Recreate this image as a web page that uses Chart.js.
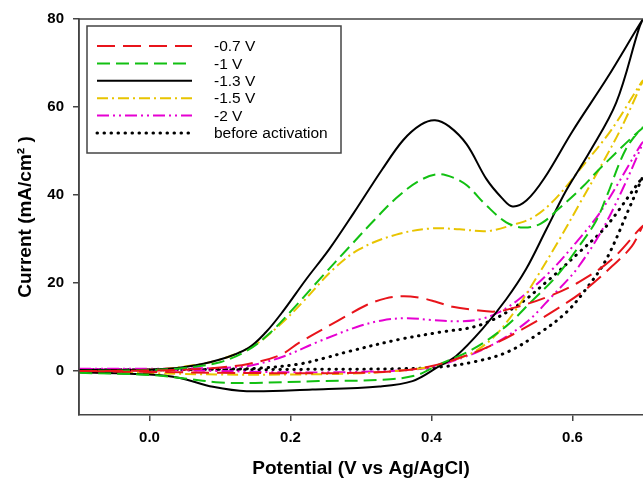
<!DOCTYPE html>
<html>
<head>
<meta charset="utf-8">
<script src="https://cdn.jsdelivr.net/npm/chart.js@4.4.1/dist/chart.umd.min.js"></script>
<style>
  body { margin: 0; background: #fff; }
  #cv { display: block; }
</style>
</head>
<body>
<canvas id="cv" width="643" height="482"></canvas>
<script>
// series labels, in legend order
const labels = ["-0.7 V", "-1 V", "-1.3 V", "-1.5 V", "-2 V", "before activation"];

// [potential (V), current (mA/cm2)] - anodic scan then the return scan
const curve07 = [
  [-0.1, 0], [0.0, 0.1], [0.05, 0.3], [0.1, 0.8], [0.14, 1.6], [0.185, 3.6], [0.213, 6.5],
  [0.265, 11.2], [0.308, 15], [0.335, 16.5], [0.36, 17], [0.385, 16.6], [0.405, 15.8],
  [0.43, 14.6], [0.46, 13.9], [0.49, 13.5], [0.52, 14.5], [0.567, 17], [0.609, 20.2],
  [0.656, 25.4], [0.7, 33],
  [0.684, 28.3], [0.656, 23.8], [0.619, 18.6], [0.577, 14], [0.529, 9.5], [0.482, 5.6],
  [0.44, 3], [0.41, 1.5], [0.37, 0.3], [0.3, -0.4], [0.2, -0.5], [0.1, -0.4], [0.0, -0.2], [-0.1, 0]
];
const curve1 = [
  [-0.1, 0], [0.0, 0.2], [0.05, 0.7], [0.1, 2], [0.14, 4.8], [0.17, 8.5], [0.203, 14],
  [0.245, 21.5], [0.284, 28.3], [0.32, 34.5], [0.35, 39.3], [0.38, 43], [0.408, 44.7],
  [0.43, 44], [0.45, 42.2], [0.478, 37.6], [0.506, 33.8], [0.53, 32.6], [0.555, 33.5],
  [0.58, 36.8], [0.614, 41.8], [0.64, 46.2], [0.7, 55.3],
  [0.676, 50.5], [0.648, 39.5], [0.633, 34], [0.609, 28.3], [0.577, 21.5], [0.543, 16],
  [0.506, 10.2], [0.458, 4.9], [0.411, 1.5], [0.378, -1], [0.33, -2], [0.24, -2.3],
  [0.15, -2.7], [0.1, -2.6], [0.05, -1.7], [0.0, -0.9], [-0.1, -0.4]
];
const curve13 = [
  [-0.1, 0.2], [0.0, 0.3], [0.05, 0.9], [0.1, 2.6], [0.14, 5.2], [0.165, 8.8], [0.189, 13.5],
  [0.222, 20.8], [0.255, 27.7], [0.29, 36], [0.33, 45.8], [0.36, 52.5], [0.385, 56],
  [0.405, 57], [0.425, 55.6], [0.45, 51.5], [0.478, 43.6], [0.5, 39.3], [0.515, 37.4],
  [0.535, 38.8], [0.56, 43.8], [0.6, 54.5], [0.65, 66.8], [0.7, 80],
  [0.694, 77.7], [0.662, 61], [0.624, 49.7], [0.591, 41], [0.563, 32.2], [0.534, 23.1],
  [0.506, 16.3], [0.472, 9.5], [0.435, 3.4], [0.411, 1.1], [0.373, -2.3], [0.326, -3.5],
  [0.231, -4.2], [0.138, -4.6], [0.09, -3.6], [0.043, -1.6], [0.0, -0.8], [-0.1, -0.3]
];
const curve15 = [
  [-0.1, 0.1], [0.0, 0.3], [0.05, 1], [0.1, 2.6], [0.15, 6], [0.185, 10.5], [0.217, 15.6],
  [0.26, 23], [0.298, 27.7], [0.35, 31], [0.4, 32.4], [0.44, 32.2], [0.48, 31.8],
  [0.515, 33.2], [0.545, 35], [0.575, 39], [0.614, 46.5], [0.656, 55], [0.7, 66],
  [0.67, 55.5], [0.64, 46.5], [0.61, 38], [0.58, 29.5], [0.55, 21.5], [0.52, 14], [0.49, 8],
  [0.46, 4.3], [0.43, 2.4], [0.4, 1], [0.35, 0], [0.3, -0.5], [0.2, -0.8], [0.1, -0.8],
  [0.0, -0.5], [-0.1, -0.2]
];
const curve2 = [
  [-0.1, 0.5], [0.0, 0.5], [0.05, 0.6], [0.1, 0.7], [0.142, 1.2], [0.19, 3.3], [0.237, 6.5],
  [0.294, 10], [0.33, 11.5], [0.365, 12], [0.4, 11.6], [0.44, 11.3], [0.47, 11.8],
  [0.495, 13.3], [0.524, 16.3], [0.567, 22.4], [0.605, 29.2], [0.642, 36.7], [0.7, 52],
  [0.652, 35], [0.609, 23.8], [0.571, 17], [0.534, 11], [0.482, 5.6], [0.425, 2],
  [0.38, 0.4], [0.3, -0.2], [0.2, -0.3], [0.1, 0], [0.0, 0.3], [-0.1, 0.5]
];
const curveBefore = [
  [-0.1, 0.3], [0.0, 0.3], [0.1, 0.4], [0.16, 0.7], [0.213, 1.6], [0.25, 3], [0.284, 4.5],
  [0.355, 7.2], [0.411, 8.8], [0.468, 10.4], [0.52, 14.7], [0.567, 20.8], [0.609, 26.9],
  [0.648, 32.9], [0.7, 44],
  [0.684, 38.3], [0.648, 25.4], [0.619, 18.6], [0.591, 13.3], [0.553, 8.6], [0.506, 4.2],
  [0.458, 2], [0.411, 0.9], [0.35, 0.5], [0.25, 0.4], [0.15, 0.3], [0.05, 0.3], [-0.1, 0.3]
];

const xTicks = [0.0, 0.2, 0.4, 0.6];
const yTicks = [0, 20, 40, 60, 80];

const curves = [curve07, curve1, curve13, curve15, curve2, curveBefore];
const colors = ["#e8141b", "#12c012", "#000000", "#e8c400", "#e600d2", "#000000"];
const dashes = [[18, 8], [13, 6], [], [11, 4, 2, 4], [12, 4, 2, 4, 2, 4], [0.5, 6.5]];

const font = "'Liberation Sans', Arial, sans-serif";

// box round the plot area (chart.js only draws left and bottom)
const frame = {
  id: "frame",
  afterDraw(chart) {
    const { ctx, chartArea: a } = chart;
    ctx.save();
    ctx.strokeStyle = "#444";
    ctx.lineWidth = 1.5;
    ctx.beginPath();
    ctx.moveTo(a.left, a.bottom);
    ctx.lineTo(a.left, a.top);
    ctx.lineTo(a.right, a.top);
    ctx.stroke();
    ctx.restore();
  },
};

// legend box inside the plot, top left
const boxLegend = {
  id: "boxLegend",
  afterDraw(chart) {
    const ctx = chart.ctx;
    ctx.save();
    ctx.fillStyle = "#fff";
    ctx.fillRect(87, 26, 254, 127);
    ctx.strokeStyle = "#444";
    ctx.lineWidth = 1.5;
    ctx.strokeRect(87, 26, 254, 127);
    ctx.font = "15.5px " + font;
    ctx.textBaseline = "middle";
    chart.data.datasets.forEach((ds, i) => {
      const y = 46 + i * 17.4;
      ctx.beginPath();
      ctx.setLineDash(ds.borderDash);
      ctx.lineCap = ds.borderCapStyle || "butt";
      ctx.strokeStyle = ds.borderColor;
      ctx.lineWidth = ds.borderWidth;
      ctx.moveTo(97, y);
      ctx.lineTo(192, y);
      ctx.stroke();
      ctx.setLineDash([]);
      ctx.fillStyle = "#000";
      ctx.fillText(ds.label, 214, y + 1);
    });
    ctx.restore();
  },
};

new Chart(document.getElementById("cv"), {
  type: "scatter",
  data: {
    datasets: curves.map((c, i) => ({
      label: labels[i],
      data: c.map((p) => ({ x: p[0], y: p[1] })),
      showLine: true,
      borderColor: colors[i],
      borderWidth: i === 5 ? 3 : 2,
      borderDash: dashes[i],
      borderCapStyle: i === 5 ? "round" : "butt",
      pointRadius: 0,
      tension: 0.35,
      fill: false,
    })),
  },
  options: {
    responsive: false,
    animation: false,
    devicePixelRatio: 1,
    layout: { padding: { top: 19, right: 0, bottom: 0, left: 0 } },
    plugins: {
      legend: { display: false },
      tooltip: { enabled: false },
    },
    scales: {
      x: {
        type: "linear",
        min: -0.1,
        max: 0.7,
        afterBuildTicks: (s) => { s.ticks = xTicks.map((v) => ({ value: v })); },
        afterFit: (s) => { s.height = 67; },
        grid: { drawOnChartArea: false, drawTicks: true, tickLength: 6, color: "#444", lineWidth: 1.5 },
        border: { display: true, color: "#444", width: 1.5 },
        ticks: {
          padding: 8,
          color: "#000",
          font: { family: font, size: 15, weight: "bold" },
          callback: (v) => Number(v).toFixed(1),
        },
        title: {
          display: true,
          text: "Potential (V vs Ag/AgCl)",
          color: "#000",
          font: { family: font, size: 19, weight: "bold" },
          padding: { top: 0, bottom: 2 },
        },
      },
      y: {
        min: -10,
        max: 80,
        afterBuildTicks: (s) => { s.ticks = yTicks.map((v) => ({ value: v })); },
        afterFit: (s) => { s.width = 79; },
        grid: { drawOnChartArea: false, drawTicks: true, tickLength: 6, color: "#444", lineWidth: 1.5 },
        border: { display: true, color: "#444", width: 1.5 },
        ticks: {
          padding: 9,
          color: "#000",
          font: { family: font, size: 15, weight: "bold" },
        },
        title: {
          display: true,
          text: "Current (mA/cm\u00B2 )",
          color: "#000",
          font: { family: font, size: 19, weight: "bold" },
          padding: { top: 14, bottom: 0 },
        },
      },
    },
  },
  plugins: [frame, boxLegend],
});
</script>
</body>
</html>
